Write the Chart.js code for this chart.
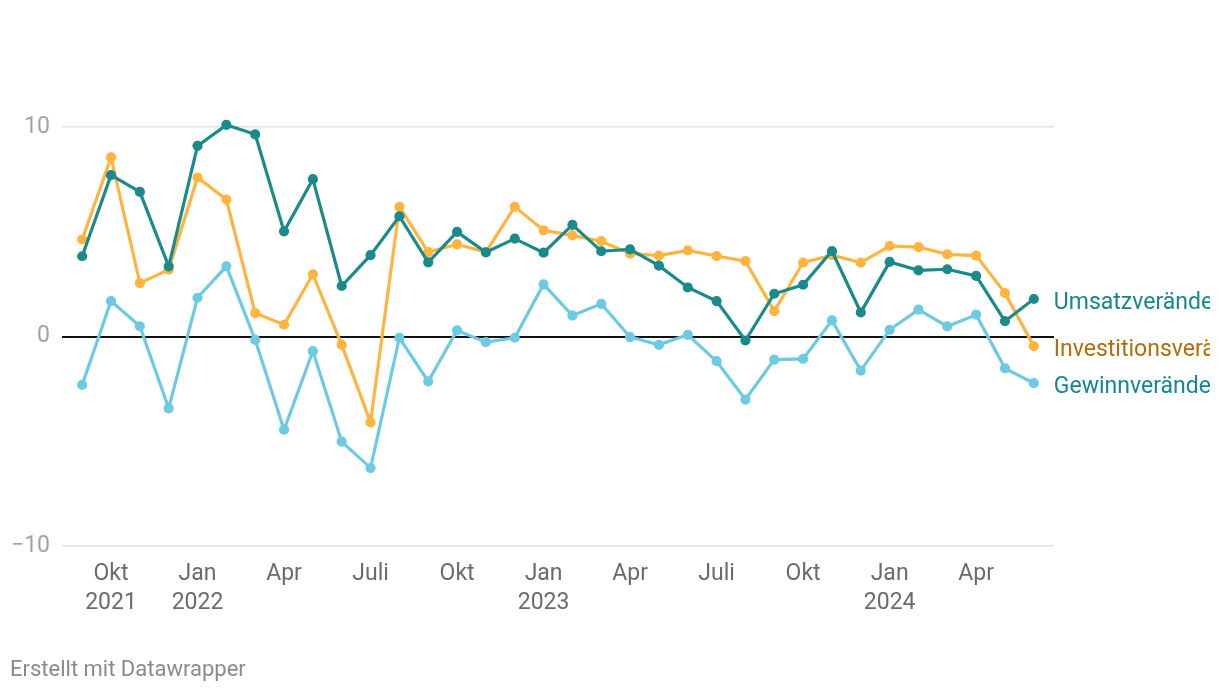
<!DOCTYPE html>
<html>
<head>
<meta charset="utf-8">
<script src="https://cdn.jsdelivr.net/npm/chart.js@4"></script>
<style>
  html, body { margin: 0; padding: 0; background: #fff; }
  #wrap { width: 1220px; height: 692px; position: relative; }
</style>
</head>
<body>
<div id="wrap"><canvas id="chart" width="1220" height="692"></canvas></div>
<script>
// Monate Sep 2021 bis Jun 2024
const months = [
  "Sep 2021", "Okt 2021", "Nov 2021", "Dez 2021",
  "Jan 2022", "Feb 2022", "Mär 2022", "Apr 2022", "Mai 2022", "Jun 2022",
  "Jul 2022", "Aug 2022", "Sep 2022", "Okt 2022", "Nov 2022", "Dez 2022",
  "Jan 2023", "Feb 2023", "Mär 2023", "Apr 2023", "Mai 2023", "Jun 2023",
  "Jul 2023", "Aug 2023", "Sep 2023", "Okt 2023", "Nov 2023", "Dez 2023",
  "Jan 2024", "Feb 2024", "Mär 2024", "Apr 2024", "Mai 2024", "Jun 2024"
];

const umsatz = [
  3.83, 7.7, 6.9, 3.35, 9.1, 10.1, 9.65, 5.02, 7.51, 2.41,
  3.88, 5.74, 3.54, 4.99, 4.02, 4.67, 4.0, 5.33, 4.07, 4.16,
  3.38, 2.34, 1.69, -0.19, 2.04, 2.47, 4.08, 1.15, 3.56, 3.16,
  3.21, 2.89, 0.73, 1.79
];

const investitionen = [
  4.63, 8.55, 2.55, 3.19, 7.59, 6.54, 1.12, 0.56, 2.97, -0.4,
  -4.1, 6.19, 4.03, 4.4, 4.03, 6.19, 5.07, 4.83, 4.55, 3.96,
  3.86, 4.11, 3.84, 3.6, 1.21, 3.53, 3.88, 3.53, 4.32, 4.27,
  3.92, 3.86, 2.07, -0.46
];

const gewinn = [
  -2.31, 1.69, 0.49, -3.43, 1.85, 3.35, -0.16, -4.45, -0.7, -5.02,
  -6.28, -0.06, -2.14, 0.29, -0.27, -0.06, 2.49, 1.0, 1.56, -0.03,
  -0.4, 0.08, -1.18, -3.01, -1.1, -1.07, 0.77, -1.63, 0.32, 1.28,
  0.48, 1.04, -1.52, -2.23
];

// x-Achsen-Beschriftung (Index im Monats-Array -> Text)
const tickIndex = [1, 4, 7, 10, 13, 16, 19, 22, 25, 28, 31];
const tickLabels = [
  ["Okt", "2021"], ["Jan", "2022"], ["Apr"], ["Juli"], ["Okt"],
  ["Jan", "2023"], ["Apr"], ["Juli"], ["Okt"], ["Jan", "2024"], ["Apr"]
];
const yTicks = [-10, 0, 10];

const seriesNames = ["Umsatzveränderung", "Investitionsveränderung", "Gewinnveränderung"];
const lineColors = ["#1b8a8a", "#ffb43f", "#6dcae3"];
const labelColors = ["#17878a", "#b06f06", "#188597"];

function toPoints(arr) {
  return arr.map((v, i) => ({ x: i, y: v }));
}

const endLabels = {
  id: "endLabels",
  afterDatasetsDraw(chart) {
    const ctx = chart.ctx;
    const items = chart.data.datasets.map((ds, i) => {
      const meta = chart.getDatasetMeta(i);
      const last = meta.data[meta.data.length - 1];
      const k = seriesNames.indexOf(ds.label);
      return { text: ds.label, color: labelColors[k], x: last.x, y: last.y + 4 };
    });
    items.sort((a, b) => a.y - b.y);
    for (let i = 1; i < items.length; i++) {
      if (items[i].y - items[i - 1].y < 37) items[i].y = items[i - 1].y + 37;
    }
    ctx.save();
    // die Beschriftung wird am rechten Rand abgeschnitten
    ctx.beginPath();
    ctx.rect(0, 0, 1210, chart.height);
    ctx.clip();
    ctx.font = "23px Roboto";
    ctx.textAlign = "left";
    ctx.textBaseline = "middle";
    items.forEach((it) => {
      ctx.fillStyle = it.color;
      ctx.fillText(it.text, it.x + 20, it.y);
    });
    ctx.fillStyle = "#8a8a8a";
    ctx.font = "22px Roboto";
    ctx.fillText("Erstellt mit Datawrapper", 10, 670);
    ctx.restore();
  },
};

const ctx = document.getElementById("chart").getContext("2d");
new Chart(ctx, {
  type: "line",
  data: {
    datasets: [umsatz, investitionen, gewinn].map((arr, i) => ({
      label: seriesNames[i],
      data: toPoints(arr),
      borderColor: lineColors[i],
      backgroundColor: lineColors[i],
      borderWidth: 3.2,
      pointRadius: 3.5,
      pointHoverRadius: 3.5,
      tension: 0,
      clip: false,
    })),
  },
  options: {
    responsive: false,
    animation: false,
    events: [],
    layout: { padding: { top: 127, right: 166, left: 0, bottom: 0 } },
    plugins: {
      legend: { display: false },
      tooltip: { enabled: false },
    },
    scales: {
      x: {
        type: "linear",
        min: -0.7,
        max: 33.7,
        afterFit(scale) { scale.height = 146; },
        afterBuildTicks(scale) {
          scale.ticks = tickIndex.map((v) => ({ value: v }));
        },
        grid: { display: false, drawTicks: false },
        border: { display: false },
        ticks: {
          autoSkip: false,
          maxRotation: 0,
          padding: 14,
          color: "#6b6b6b",
          font: { family: "Roboto", size: 23, lineHeight: 1.25 },
          callback(value) {
            const k = tickIndex.indexOf(value);
            return k >= 0 ? tickLabels[k] : "";
          },
        },
      },
      y: {
        min: -10,
        max: 10,
        afterFit(scale) { scale.width = 62; },
        afterBuildTicks(scale) {
          scale.ticks = yTicks.map((v) => ({ value: v }));
        },
        border: { display: false },
        grid: {
          drawTicks: false,
          color: (c) => (c.tick && c.tick.value === 0 ? "#111111" : "#e2e2e2"),
          lineWidth: (c) => (c.tick && c.tick.value === 0 ? 2 : 1.5),
        },
        ticks: {
          padding: 12,
          color: "#a3a3a3",
          font: { family: "Roboto", size: 23 },
          callback(value) {
            return value < 0 ? "\u2212" + Math.abs(value) : String(value);
          },
        },
      },
    },
  },
  plugins: [endLabels],
});
</script>
</body>
</html>
